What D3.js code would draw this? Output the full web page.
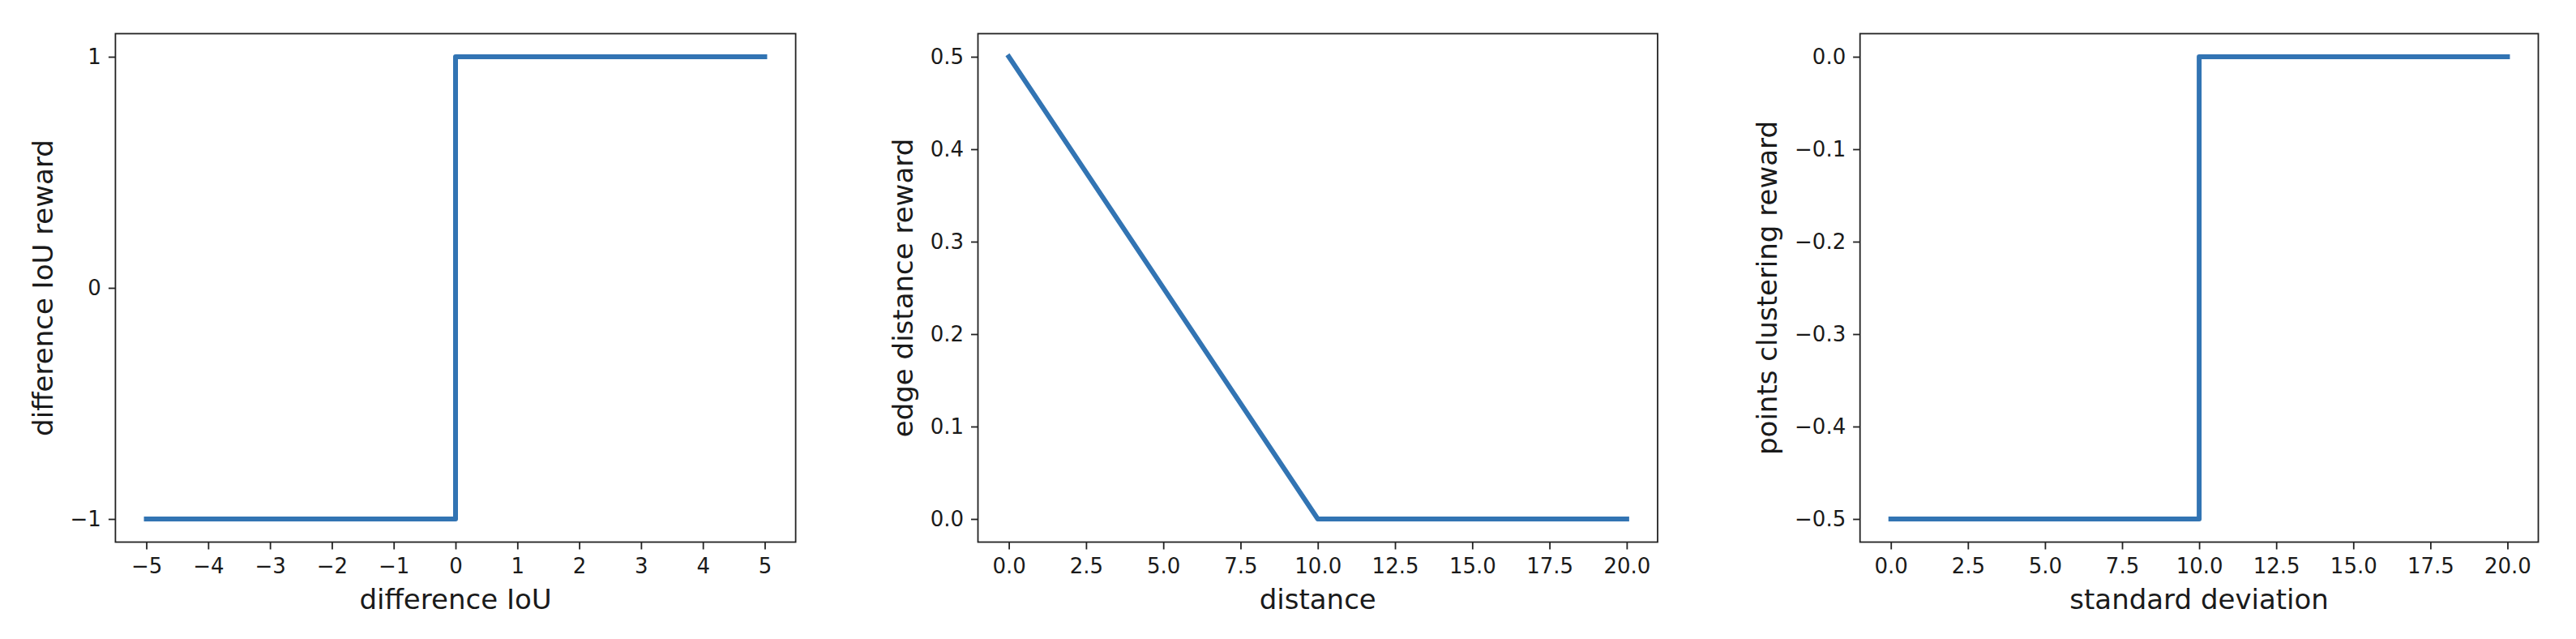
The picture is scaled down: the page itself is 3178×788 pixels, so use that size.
<!DOCTYPE html>
<html><head><meta charset="utf-8">
<script src="https://cdn.jsdelivr.net/npm/d3@7"></script>
<style>
body{margin:0;background:#fff}
svg{display:block}
text{font-family:"DejaVu Sans",sans-serif;fill:#1a1a1a}
</style>
</head><body>
<svg id="chart" width="3178" height="788"></svg>
<script>
// ---- data ----
const iouX = [-5, 0, 0, 5];
const iouY = [-1, -1, 1, 1];
const iouXTicks = [-5, -4, -3, -2, -1, 0, 1, 2, 3, 4, 5];
const iouYTicks = [-1, 0, 1];

const edgeX = [0, 10, 20];
const edgeY = [0.5, 0, 0];
const edgeXTicks = [0, 2.5, 5, 7.5, 10, 12.5, 15, 17.5, 20];
const edgeYTicks = [0, 0.1, 0.2, 0.3, 0.4, 0.5];

const clusX = [0, 10, 10, 20];
const clusY = [-0.5, -0.5, 0, 0];
const clusXTicks = [0, 2.5, 5, 7.5, 10, 12.5, 15, 17.5, 20];
const clusYTicks = [0, -0.1, -0.2, -0.3, -0.4, -0.5];

const xLabels = ["difference IoU", "distance", "standard deviation"];
const yLabels = ["difference IoU reward", "edge distance reward", "points clustering reward"];

// ---- layout ----
const panels = [
  {x: iouX, y: iouY, xt: iouXTicks, yt: iouYTicks, xf: d3.format("d"), yf: d3.format("d"), left: 142.4, right: 981.6},
  {x: edgeX, y: edgeY, xt: edgeXTicks, yt: edgeYTicks, xf: d3.format(".1f"), yf: d3.format(".1f"), left: 1206.5, right: 2045},
  {x: clusX, y: clusY, xt: clusXTicks, yt: clusYTicks, xf: d3.format(".1f"), yf: d3.format(".1f"), left: 2294.7, right: 3131.5}
];
const plotTop = 41.5, plotBottom = 668.5;
const lineColor = "#3274b3";
const svg = d3.select("#chart");

panels.forEach((p, i) => {
  const [x0, x1] = d3.extent(p.x), [y0, y1] = d3.extent(p.y);
  const mx = (x1 - x0) * 0.05, my = (y1 - y0) * 0.05;
  const xs = d3.scaleLinear().domain([x0 - mx, x1 + mx]).range([p.left, p.right]);
  const ys = d3.scaleLinear().domain([y0 - my, y1 + my]).range([plotBottom, plotTop]);
  const g = svg.append("g");

  const xa = g.append("g").attr("transform", `translate(0,${plotBottom})`)
    .call(d3.axisBottom(xs).tickValues(p.xt).tickFormat(p.xf).tickSize(9).tickPadding(11.5));
  const ya = g.append("g").attr("transform", `translate(${p.left},0)`)
    .call(d3.axisLeft(ys).tickValues(p.yt).tickFormat(p.yf).tickSize(8.5).tickPadding(9));
  [xa, ya].forEach(a => {
    a.select(".domain").remove();
    a.selectAll(".tick line").attr("stroke", "#222").attr("stroke-width", 1.8);
    a.selectAll("text").attr("font-size", 26).attr("font-family", "DejaVu Sans").attr("fill", "#1a1a1a");
  });

  g.append("path")
    .datum(p.x.map((v, k) => [v, p.y[k]]))
    .attr("fill", "none")
    .attr("stroke", lineColor)
    .attr("stroke-width", 6)
    .attr("stroke-linecap", "square")
    .attr("stroke-linejoin", "round")
    .attr("d", d3.line().x(d => xs(d[0])).y(d => ys(d[1])));

  g.append("rect")
    .attr("x", p.left).attr("y", plotTop)
    .attr("width", p.right - p.left).attr("height", plotBottom - plotTop)
    .attr("fill", "none").attr("stroke", "#222").attr("stroke-width", 1.8);

  g.append("text")
    .attr("x", (p.left + p.right) / 2).attr("y", 751)
    .attr("text-anchor", "middle").attr("font-size", 34)
    .text(xLabels[i]);

  let minLeft = Infinity;
  ya.selectAll("text").each(function() {
    const r = this.getBoundingClientRect();
    minLeft = Math.min(minLeft, r.left);
  });
  const cy = (plotTop + plotBottom) / 2;
  const lx = minLeft - 22;
  g.append("text")
    .attr("transform", `translate(${lx},${cy}) rotate(-90)`)
    .attr("text-anchor", "middle").attr("font-size", 34)
    .text(yLabels[i]);
});
</script>
</body></html>
